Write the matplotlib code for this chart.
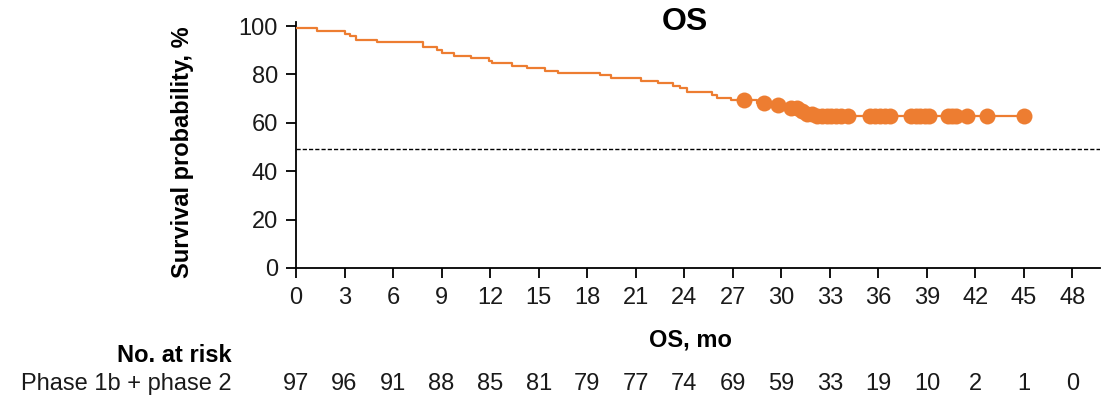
import numpy as np
import matplotlib
matplotlib.use("Agg")
import matplotlib.pyplot as plt

plt.rcParams["font.family"] = ["Liberation Sans", "DejaVu Sans"]

# Kaplan-Meier estimate: event times (months) and survival (%) after each step
step_times = [0.0, 1.3, 3.0, 3.35, 3.7, 5.0, 7.85, 8.7, 9.0, 9.75, 10.8, 11.9,
              12.1, 13.35, 14.3, 15.4, 16.2, 18.8, 19.5, 21.3, 22.4, 23.3,
              23.75, 24.15, 25.7, 26.0, 26.9, 28.5, 29.4, 30.3, 31.1, 31.6,
              32.2]
step_surv = [99.0, 97.9, 96.9, 95.9, 94.2, 93.2, 91.2, 90.0, 88.9, 87.8, 86.7,
             85.7, 84.6, 83.5, 82.5, 81.5, 80.5, 79.6, 78.5, 77.4, 76.3, 75.3,
             74.2, 72.6, 71.5, 70.4, 69.4, 68.3, 67.2, 66.0, 65.0, 63.8, 62.7]
last_followup = 45.0

# Censored observations (months)
censor_times = [27.7, 28.9, 29.8, 30.6, 31.0, 31.3, 31.6, 31.9, 32.2, 32.5,
                32.8, 33.1, 33.4, 33.7, 34.1, 35.5, 35.8, 36.1, 36.4, 36.7,
                38.0, 38.3, 38.6, 38.9, 39.15, 40.3, 40.55, 40.8, 41.5, 42.7,
                45.0]

median_ref = 49.0

# Number at risk table
risk_times = [0, 3, 6, 9, 12, 15, 18, 21, 24, 27, 30, 33, 36, 39, 42, 45, 48]
risk_counts = [97, 96, 91, 88, 85, 81, 79, 77, 74, 69, 59, 33, 19, 10, 2, 1, 0]
group_name = "Phase 1b + phase 2"

orange = "#ED7D31"
text_col = "#1a1a1a"
W, H = 1114, 401
fig = plt.figure(figsize=(W / 100, H / 100), dpi=100)
ax = fig.add_axes([296 / W, 1 - 268 / H, (1100 - 296) / W, (268 - 22.4) / H])

# survival curve
t_line = step_times + [last_followup]
s_line = step_surv + [step_surv[-1]]
ax.step(t_line, s_line, where="post", color=orange, lw=1.6, zorder=3)

# censor marks sit on the curve
idx = np.searchsorted(step_times, censor_times, side="right") - 1
censor_surv = np.array(step_surv)[idx]
ax.plot(censor_times, censor_surv, "o", color=orange, ms=11.5, mew=0,
        zorder=4)

ax.axhline(median_ref, color="black", lw=1.0, ls=(0, (3, 1.5)), zorder=2)

ax.set_xlim(0, 49.7)
ax.set_ylim(0, 101.5)
ax.set_xticks(risk_times)
ax.set_yticks([0, 20, 40, 60, 80, 100])
for side in ("top", "right"):
    ax.spines[side].set_visible(False)
for side in ("left", "bottom"):
    ax.spines[side].set_linewidth(1.3)
ax.tick_params(axis="both", labelsize=17, length=7, width=1.3,
               color="black", labelcolor=text_col)
ax.tick_params(axis="x", pad=7)
ax.tick_params(axis="y", pad=6)

fig.text(685 / W, 1 - 22 / H, "OS", ha="center", va="center",
         fontsize=23, fontweight="bold")
fig.text(182 / W, 1 - 152 / H, "Survival probability, %", rotation=90,
         ha="center", va="center", fontsize=17, fontweight="bold")

trans = ax.get_xaxis_transform()
h_ax = 268 - 22.4
fig.text(690 / W, 1 - 340 / H, "OS, mo", ha="center", va="center",
         fontsize=17, fontweight="bold")
fig.text(232 / W, 1 - 355 / H, "No. at risk", ha="right", va="center",
         fontsize=17, fontweight="bold")
fig.text(232 / W, 1 - 384 / H, group_name, ha="right", va="center",
         fontsize=17, color=text_col)
for t, n in zip(risk_times, risk_counts):
    ax.text(t, (268 - 384) / h_ax, str(n), transform=trans, ha="center",
            va="center", fontsize=17, color=text_col, clip_on=False)

fig.savefig("out.png", dpi=100)
